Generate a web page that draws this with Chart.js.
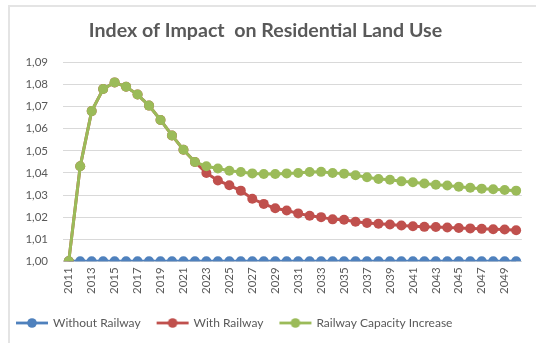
<!DOCTYPE html>
<html>
<head>
<meta charset="utf-8">
<script src="https://cdn.jsdelivr.net/npm/chart.js@4"></script>
<style>
    html, body { margin: 0; padding: 0; background: #ffffff; }
    #wrap { position: relative; width: 536px; height: 343px; }
    #frame { position: absolute; left: 8px; top: 5px; right: -2px; bottom: -2px;
             border-left: 2px solid #e4e4e4; border-top: 2px solid #e4e4e4; }
    canvas { position: absolute; left: 0; top: 0; }
</style>
</head>
<body>
<div id="wrap">
    <div id="frame"></div>
    <canvas id="line-chart" width="536" height="343"></canvas>
</div>
<script>
var years = []
for (var y = 2011; y <= 2050; y++) years.push(String(y))

var withoutRailway = [
    1.000, 1.000, 1.000, 1.000, 1.000, 1.000, 1.000, 1.000, 1.000, 1.000,
    1.000, 1.000, 1.000, 1.000, 1.000, 1.000, 1.000, 1.000, 1.000, 1.000,
    1.000, 1.000, 1.000, 1.000, 1.000, 1.000, 1.000, 1.000, 1.000, 1.000,
    1.000, 1.000, 1.000, 1.000, 1.000, 1.000, 1.000, 1.000, 1.000, 1.000
]
var withRailway = [
    1.000, 1.043, 1.068, 1.078, 1.081, 1.079, 1.0755, 1.0705, 1.064, 1.057,
    1.0505, 1.045, 1.040, 1.0366, 1.0344, 1.032, 1.0283, 1.026, 1.024, 1.023,
    1.0217, 1.0206, 1.020, 1.019, 1.0188, 1.0179, 1.0174, 1.017, 1.0167, 1.0162,
    1.0159, 1.0156, 1.0155, 1.0153, 1.0151, 1.0149, 1.0147, 1.0145, 1.0144, 1.0141
]
var capacityIncrease = [
    1.000, 1.043, 1.068, 1.078, 1.081, 1.079, 1.0755, 1.0705, 1.064, 1.057,
    1.0505, 1.045, 1.043, 1.042, 1.041, 1.0404, 1.0398, 1.0395, 1.0395, 1.0398,
    1.040, 1.0404, 1.0405, 1.040, 1.0397, 1.039, 1.0381, 1.0373, 1.0369, 1.0362,
    1.0358, 1.0352, 1.0347, 1.0343, 1.0338, 1.0333, 1.0329, 1.0326, 1.0323, 1.032
]

var BLUE = '#4F81BD', RED = '#C0504D', GREEN = '#9BBB59'
var FONT = 'Lato, "Open Sans", sans-serif'

// small line-with-dot marker used in the legend
function legendMarker(color) {
    var c = document.createElement('canvas')
    c.width = 34
    c.height = 10
    var ctx = c.getContext('2d')
    ctx.strokeStyle = color
    ctx.lineWidth = 2.8
    ctx.beginPath()
    ctx.moveTo(1, 5)
    ctx.lineTo(33, 5)
    ctx.stroke()
    ctx.fillStyle = color
    ctx.beginPath()
    ctx.arc(17, 5, 4.8, 0, Math.PI * 2)
    ctx.fill()
    return c
}

function series(label, data, color, order) {
    return {
        label: label,
        data: data,
        borderColor: color,
        backgroundColor: color,
        borderWidth: 3,
        pointRadius: 5,
        pointHoverRadius: 5,
        pointBorderWidth: 0,
        pointStyle: 'circle',
        pointBackgroundColor: color,
        order: order,
        fill: false,
        tension: 0
    }
}

var markers = [legendMarker(BLUE), legendMarker(RED), legendMarker(GREEN)]

new Chart(document.getElementById('line-chart'), {
    type: 'line',
    data: {
        labels: years,
        datasets: [
            series('Without Railway', withoutRailway, BLUE, 3),
            series('With Railway', withRailway, RED, 2),
            series('Railway Capacity Increase', capacityIncrease, GREEN, 1)
        ]
    },
    options: {
        responsive: false,
        animation: false,
        layout: { padding: { left: 0, right: 5, top: 0, bottom: 4 } },
        plugins: {
            title: {
                display: true,
                text: 'Index of Impact  on Residential Land Use',
                color: '#595959',
                font: { family: FONT, size: 19.6, weight: 'bold' },
                padding: { top: 19, bottom: 20 }
            },
            legend: {
                position: 'bottom',
                align: 'start',
                labels: {
                    color: '#595959',
                    font: { family: FONT, size: 12 },
                    usePointStyle: true,
                    pointStyleWidth: 30,
                    boxHeight: 10,
                    padding: 17,
                    generateLabels: function(chart) {
                        return chart.data.datasets.map(function(ds, i) {
                            return {
                                text: ds.label,
                                pointStyle: markers[i],
                                fillStyle: ds.borderColor,
                                strokeStyle: ds.borderColor,
                                lineWidth: 0,
                                fontColor: '#595959',
                                datasetIndex: i,
                                hidden: false
                            }
                        })
                    }
                }
            },
            tooltip: { enabled: false }
        },
        scales: {
            x: {
                offset: true,
                grid: { display: false, drawTicks: false },
                border: { display: true, color: '#d9d9d9' },
                ticks: {
                    autoSkip: false,
                    minRotation: 90,
                    maxRotation: 90,
                    padding: 6,
                    color: '#595959',
                    font: { family: FONT, size: 11.5 },
                    callback: function(value, index) {
                        return index % 2 === 0 ? this.getLabelForValue(value) : ''
                    }
                }
            },
            y: {
                min: 1.00,
                max: 1.09,
                afterFit: function(scale) { scale.width = 63 },
                grid: { color: '#d9d9d9', lineWidth: 1, drawTicks: false },
                border: { display: false },
                ticks: {
                    stepSize: 0.01,
                    padding: 15,
                    color: '#595959',
                    font: { family: FONT, size: 11.5 },
                    callback: function(value) {
                        return value.toFixed(2).replace('.', ',')
                    }
                }
            }
        }
    }
});
</script>
</body>
</html>
